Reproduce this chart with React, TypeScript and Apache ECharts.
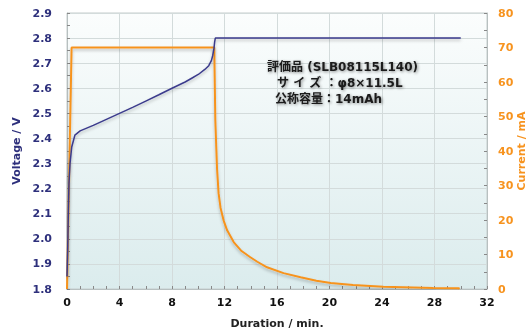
import React, { useEffect, useRef } from "react";
import * as echarts from "echarts";

const voltTime = [0, 0.05, 0.1, 0.15, 0.23, 0.36, 0.6, 1.0, 2, 3, 4, 5, 6, 7, 8, 9, 9.5, 10, 10.5, 10.8, 11.0, 11.1, 11.2, 11.25, 11.3, 30];
const voltValue = [1.85, 1.95, 2.1, 2.22, 2.3, 2.366, 2.413, 2.43, 2.452, 2.476, 2.5, 2.524, 2.549, 2.574, 2.6, 2.625, 2.64, 2.655, 2.675, 2.69, 2.71, 2.73, 2.76, 2.785, 2.8, 2.8];

const currTime = [0, 0.05, 0.35, 11.22, 11.3, 11.43, 11.55, 11.7, 11.93, 12.2, 12.7, 13.3, 13.97, 14.5, 15.24, 16.5, 17.8, 19, 20.1, 21.8, 24.1, 27.9, 29.85, 29.9];
const currValue = [0, 0, 70, 70, 49, 35, 27.7, 23.5, 19.9, 17, 13.6, 11, 9.2, 7.9, 6.3, 4.6, 3.4, 2.4, 1.75, 1.16, 0.67, 0.3, 0.2, 0];

const noteLines = ["評価品 (SLB08115L140)", "サ イ ズ ：φ8×11.5L", "公称容量：14mAh"];

const FONT = '"DejaVu Sans", "Noto Sans CJK JP", sans-serif';
const NAVY = "#2e307c";
const ORANGE = "#f7931e";

export default function App() {
  const ref = useRef<HTMLDivElement>(null);
  useEffect(() => {
    if (!ref.current) return;
    const chart = echarts.init(ref.current, null, { renderer: "svg" });
    const voltData = voltTime.map((t, i) => [t, voltValue[i]]);
    const currData = currTime.map((t, i) => [t, currValue[i]]);
    chart.setOption({
      animation: false,
      grid: {
        left: 67,
        right: 41,
        top: 13,
        bottom: 42,
        outerBoundsMode: "none",
        containLabel: false,
        show: true,
        borderColor: "#c5cdcd",
        borderWidth: 1,
        backgroundColor: new echarts.graphic.LinearGradient(0, 0, 0, 1, [
          { offset: 0, color: "#fbfdfd" },
          { offset: 1, color: "#dbeced" },
        ]),
      },
      xAxis: {
        type: "value",
        min: 0,
        max: 32,
        interval: 4,
        name: "Duration / min.",
        nameLocation: "middle",
        nameGap: 29,
        nameTextStyle: { color: "#222", fontFamily: FONT, fontWeight: "bold", fontSize: 11 },
        axisLine: { show: true, lineStyle: { color: "#b8c0c0" } },
        axisTick: { show: true, inside: true, length: 3, lineStyle: { color: "#888" } },
        minorTick: { show: true, splitNumber: 4, length: 3, lineStyle: { color: "#888" } },
        axisLabel: { color: "#111", fontFamily: FONT, fontWeight: "bold", fontSize: 11, margin: 8 },
        splitLine: { show: true, lineStyle: { color: "#d3dbdb" } },
      },
      yAxis: [
        {
          type: "value",
          min: 1.8,
          max: 2.9,
          interval: 0.1,
          position: "left",
          name: "Voltage / V",
          nameLocation: "middle",
          nameGap: 44,
          nameTextStyle: { color: NAVY, fontFamily: FONT, fontWeight: "bold", fontSize: 11 },
          axisLine: { show: true, lineStyle: { color: "#b8c0c0" } },
          axisTick: { show: true, inside: true, length: 3, lineStyle: { color: "#888" } },
          minorTick: { show: true, splitNumber: 2, length: 3, lineStyle: { color: "#888" } },
          axisLabel: {
            color: NAVY,
            fontFamily: FONT,
            fontWeight: "bold",
            fontSize: 11,
            margin: 15,
            formatter: (v: number) => v.toFixed(1),
          },
          splitLine: { show: true, lineStyle: { color: "#d3dbdb" } },
        },
        {
          type: "value",
          min: 0,
          max: 80,
          interval: 10,
          position: "right",
          name: "Current / mA",
          nameLocation: "middle",
          nameGap: 29,
          nameMoveOverlap: false,
          nameTextStyle: { color: ORANGE, fontFamily: FONT, fontWeight: "bold", fontSize: 11 },
          axisLine: { show: true, lineStyle: { color: "#b8c0c0" } },
          axisTick: { show: true, inside: true, length: 3, lineStyle: { color: "#888" } },
          minorTick: { show: true, splitNumber: 2, length: 3, lineStyle: { color: "#888" } },
          axisLabel: { color: ORANGE, fontFamily: FONT, fontWeight: "bold", fontSize: 11, margin: 11 },
          splitLine: { show: false },
        },
      ],
      series: [
        {
          type: "line",
          name: "Current",
          yAxisIndex: 1,
          data: currData,
          showSymbol: false,
          lineStyle: {
            color: ORANGE,
            width: 2,
            shadowColor: "rgba(0,0,0,0.25)",
            shadowBlur: 3,
            shadowOffsetY: 2,
          },
          z: 2,
        },
        {
          type: "line",
          name: "Voltage",
          yAxisIndex: 0,
          data: voltData,
          showSymbol: false,
          lineStyle: {
            color: "#3b3b8c",
            width: 1.5,
            shadowColor: "rgba(0,0,0,0.25)",
            shadowBlur: 3,
            shadowOffsetY: 2,
          },
          z: 3,
        },
      ],
      graphic: noteLines.map((t, i) => ({
        type: "text",
        x: i === 0 ? 267 : i === 1 ? 277 : 275,
        y: 67 + i * 16,
        style: {
          text: t,
          fill: "#1a1a1a",
          font: `bold 12px ${FONT}`,
          verticalAlign: "middle",
          textShadowColor: "rgba(0,0,0,0.45)",
          textShadowBlur: 3,
          textShadowOffsetX: 1,
          textShadowOffsetY: 1,
        },
        z: 10,
      })),
    });
    return () => chart.dispose();
  }, []);
  return (
    <div
      ref={ref}
      style={{ position: "fixed", left: 0, top: 0, width: 528, height: 331 }}
    />
  );
}
